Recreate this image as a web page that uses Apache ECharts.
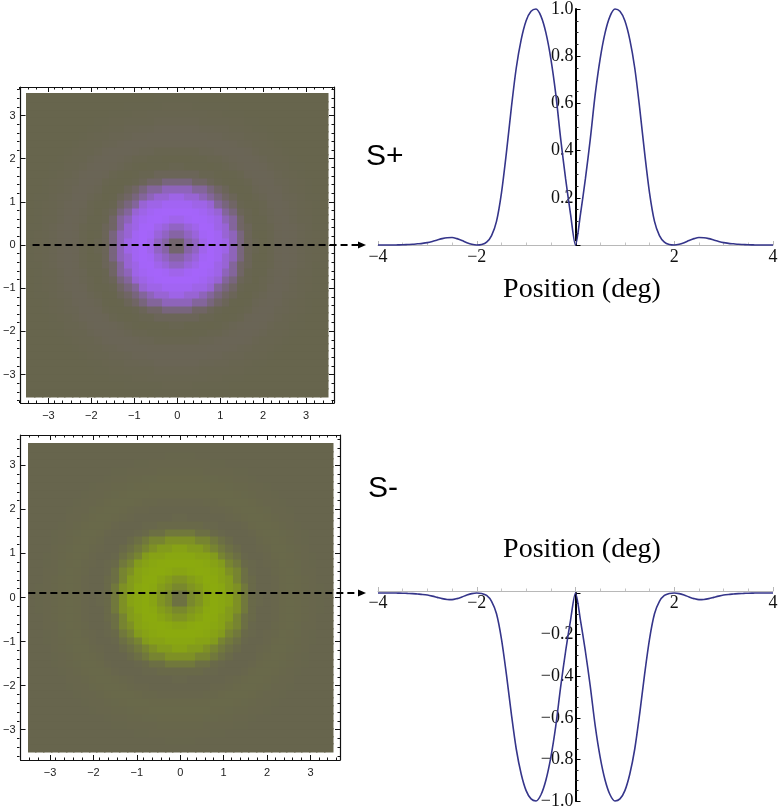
<!DOCTYPE html>
<html>
<head>
<meta charset="utf-8">
<script src="https://cdn.jsdelivr.net/npm/echarts@6/dist/echarts.min.js"></script>
<style>html,body{margin:0;padding:0;background:#fff;}#c{width:784px;height:810px;}</style>
</head>
<body>
<div id="c"></div>
<script>
// ---------------- data ----------------
const positionDeg = [
  -4.0,-3.9,-3.8,-3.7,-3.6,-3.5,-3.4,-3.3,-3.2,-3.1,
  -3.0,-2.9,-2.8,-2.7,-2.6,-2.5,-2.4,-2.3,-2.2,-2.1,
  -2.0,-1.9,-1.8,-1.7,-1.6,-1.5,-1.4,-1.3,-1.2,-1.1,
  -1.0,-0.9,-0.8,-0.7,-0.6,-0.5,-0.4,-0.3,-0.2,-0.1,
   0.0,
   0.1, 0.2, 0.3, 0.4, 0.5, 0.6, 0.7, 0.8, 0.9, 1.0,
   1.1, 1.2, 1.3, 1.4, 1.5, 1.6, 1.7, 1.8, 1.9, 2.0,
   2.1, 2.2, 2.3, 2.4, 2.5, 2.6, 2.7, 2.8, 2.9, 3.0,
   3.1, 3.2, 3.3, 3.4, 3.5, 3.6, 3.7, 3.8, 3.9, 4.0
];
const sPlusResponse = [
  0, 0, 0, 0, 0.0005, 0.001, 0.002, 0.003, 0.005, 0.007,
  0.010, 0.015, 0.021, 0.027, 0.031, 0.032, 0.027, 0.019, 0.010, 0.003,
  0, 0.002, 0.012, 0.04, 0.10, 0.22, 0.39, 0.58, 0.75, 0.87,
  0.95, 0.99, 1.00, 0.97, 0.90, 0.79, 0.64, 0.45, 0.28, 0.13,
  0,
  0.13, 0.28, 0.45, 0.64, 0.79, 0.90, 0.97, 1.00, 0.99, 0.95,
  0.87, 0.75, 0.58, 0.39, 0.22, 0.10, 0.04, 0.012, 0.002, 0,
  0.003, 0.010, 0.019, 0.027, 0.032, 0.031, 0.027, 0.021, 0.015, 0.010,
  0.007, 0.005, 0.003, 0.002, 0.001, 0.0005, 0, 0, 0, 0
];
const sMinusResponse = [
  0, 0, 0, 0, -0.0005, -0.001, -0.002, -0.003, -0.005, -0.007,
  -0.010, -0.015, -0.021, -0.027, -0.031, -0.032, -0.027, -0.019, -0.010, -0.003,
  0, -0.002, -0.012, -0.04, -0.10, -0.22, -0.39, -0.58, -0.75, -0.87,
  -0.95, -0.99, -1.00, -0.97, -0.90, -0.79, -0.64, -0.45, -0.28, -0.13,
  0,
  -0.13, -0.28, -0.45, -0.64, -0.79, -0.90, -0.97, -1.00, -0.99, -0.95,
  -0.87, -0.75, -0.58, -0.39, -0.22, -0.10, -0.04, -0.012, -0.002, 0,
  -0.003, -0.010, -0.019, -0.027, -0.032, -0.031, -0.027, -0.021, -0.015, -0.010,
  -0.007, -0.005, -0.003, -0.002, -0.001, -0.0005, 0, 0, 0, 0
];
const heatTicks = [-3, -2, -1, 0, 1, 2, 3];
const heatMinorTicks = [-3.6,-3.4,-3.2,-2.8,-2.6,-2.4,-2.2,-1.8,-1.6,-1.4,-1.2,-0.8,-0.6,-0.4,-0.2,
                        0.2,0.4,0.6,0.8,1.2,1.4,1.6,1.8,2.2,2.4,2.6,2.8,3.2,3.4,3.6];
const heatCellCount = 40;          // pixel blocks per side of each map
const heatExtent = 3.5;            // map spans -3.5..3.5 deg
const sPlusYTicks = [0.2, 0.4, 0.6, 0.8, 1.0];
const sMinusYTicks = [-0.2, -0.4, -0.6, -0.8, -1.0];

// ---------------- helpers ----------------
const MINUS = '\u2212';
const fmtInt = v => (v < 0 ? MINUS + (-v) : String(v));
const BG = [103, 101, 77];
const PURPLE = [165, 100, 250];
const GREEN = [139, 170, 14];
function mix(c, v) {
  v = Math.pow(Math.max(0, Math.min(1, v)), 0.85);
  return 'rgb(' + c.map((k, i) => Math.round(BG[i] + (k - BG[i]) * v)).join(',') + ')';
}
// radial maps: each block takes the slice value at its radius (nearest sample of the read profile)
function radialCells(values, sign) {
  const step = 2 * heatExtent / heatCellCount;
  const cells = [];
  for (let i = 0; i < heatCellCount; i++) {
    for (let j = 0; j < heatCellCount; j++) {
      const x = -heatExtent + step * (i + 0.5);
      const y = -heatExtent + step * (j + 0.5);
      const r = Math.sqrt(x * x + y * y);
      let best = -1, bd = 1e9;
      for (let k = 0; k < positionDeg.length; k++) {
        if (positionDeg[k] < 0) continue;
        const d = Math.abs(positionDeg[k] - r);
        if (d < bd) { bd = d; best = k; }
      }
      const v = (bd < 0.06) ? sign * values[best] : 0;
      cells.push([x, y, v]);
    }
  }
  return cells;
}
const CELL = 2 * heatExtent / heatCellCount;
function heatRender(color) {
  return function (params, api) {
    const x = api.value(0), y = api.value(1), v = api.value(2);
    const p0 = api.coord([x - CELL / 2, y + CELL / 2]);
    const p1 = api.coord([x + CELL / 2, y - CELL / 2]);
    const x0 = Math.floor(p0[0]), y0 = Math.floor(p0[1]);
    return {
      type: 'rect',
      shape: { x: x0, y: y0, width: Math.ceil(p1[0]) - x0 + 0.5, height: Math.ceil(p1[1]) - y0 + 0.5 },
      style: { fill: mix(color, v) }
    };
  };
}

function frameAxes(dim, gMaj, gMin, lim) {
  const pos = dim === 'x' ? ['bottom', 'top'] : ['left', 'right'];
  const base = {
    type: 'value', min: -lim, max: lim,
    splitLine: { show: false },
    axisLine: { show: true, onZero: false, lineStyle: { color: '#111', width: 1.2 } }
  };
  const majTick = { show: true, inside: true, length: 5, customValues: heatTicks, lineStyle: { color: '#111', width: 1 } };
  const minTick = { show: true, inside: true, length: 2.5, customValues: heatMinorTicks, lineStyle: { color: '#111', width: 1 } };
  return [
    Object.assign({}, base, { gridIndex: gMaj, position: pos[0], axisTick: majTick,
      axisLabel: { show: true, customValues: heatTicks, formatter: fmtInt, fontSize: 11,
        fontFamily: 'Liberation Sans', color: '#222', margin: dim === 'x' ? 7 : 5 } }),
    Object.assign({}, base, { gridIndex: gMaj, position: pos[1], axisTick: majTick, axisLabel: { show: false } }),
    Object.assign({}, base, { gridIndex: gMin, position: pos[0], axisLine: { show: false, onZero: false }, axisTick: minTick, axisLabel: { show: false } }),
    Object.assign({}, base, { gridIndex: gMin, position: pos[1], axisLine: { show: false, onZero: false }, axisTick: minTick, axisLabel: { show: false } })
  ];
}

const serifFont = 'Liberation Serif';
const LINE_W = 395, LINE_H_BOTTOM = 210;
function lineX(gridIndex, offset) {
  return {
    type: 'value', gridIndex: gridIndex, min: -4, max: 4, interval: 2,
    position: 'bottom', offset: offset,
    splitLine: { show: false },
    axisLine: { show: true, onZero: false, lineStyle: { color: '#b8b8b8', width: 1 } },
    axisTick: { show: true, inside: true, length: 4, lineStyle: { color: '#b8b8b8' } },
    minorTick: { show: true, splitNumber: 4, length: 2.5, lineStyle: { color: '#c4c4c4' } },
    minorSplitLine: { show: false },
    axisLabel: { formatter: v => (v === 0 ? '' : fmtInt(v)), fontFamily: serifFont, fontSize: 18, color: '#111', margin: 3 }
  };
}
function lineY(gridIndex, min, max, ticks) {
  return {
    type: 'value', gridIndex: gridIndex, min: min, max: max, interval: 0.2,
    position: 'left', offset: -LINE_W / 2,     // axis drawn through x = 0 (middle of -4..4)
    splitLine: { show: false },
    axisLine: { show: true, onZero: false, lineStyle: { color: '#000', width: 2 } },
    axisTick: { show: true, inside: false, length: -5, lineStyle: { color: '#000' } },
    minorTick: { show: true, splitNumber: 4, length: -3, lineStyle: { color: '#222' } },
    minorSplitLine: { show: false },
    axisLabel: { customValues: ticks, formatter: v => (v < 0 ? MINUS + (-v).toFixed(1) : v.toFixed(1)),
      fontFamily: serifFont, fontSize: 18, color: '#111', margin: 2 }
  };
}

const xAxes = [].concat(
  frameAxes('x', 0, 1, 3.65),
  frameAxes('x', 2, 3, 3.68),
  [lineX(4, 0), lineX(5, -LINE_H_BOTTOM)]
);
const yAxes = [].concat(
  frameAxes('y', 0, 1, 3.66),
  frameAxes('y', 2, 3, 3.69),
  [lineY(4, 0, 1, sPlusYTicks), lineY(5, -1, 0, sMinusYTicks)]
);

const chart = echarts.init(document.getElementById('c'), null, { renderer: 'canvas' });
chart.setOption({
  animation: false,
  backgroundColor: '#fff',
  grid: [
    { left: 17, top: 87, width: 317, height: 316 },
    { left: 17, top: 87, width: 317, height: 316 },
    { left: 17, top: 435, width: 323, height: 325 },
    { left: 17, top: 435, width: 323, height: 325 },
    { left: 378, top: 8, width: LINE_W, height: 237 },
    { left: 378, top: 593, width: LINE_W, height: LINE_H_BOTTOM }
  ],
  xAxis: xAxes,
  yAxis: yAxes,
  series: [
    { type: 'custom', name: 'S+ map', xAxisIndex: 0, yAxisIndex: 0, data: radialCells(sPlusResponse, 1),
      renderItem: heatRender(PURPLE), silent: true },
    { type: 'custom', name: 'S- map', xAxisIndex: 4, yAxisIndex: 4, data: radialCells(sMinusResponse, -1),
      renderItem: heatRender(GREEN), silent: true },
    { type: 'line', name: 'S+', xAxisIndex: 8, yAxisIndex: 8, showSymbol: false, smooth: 0.3, clip: false, z: 5,
      data: positionDeg.map((x, i) => [x, sPlusResponse[i]]),
      lineStyle: { color: '#35358a', width: 1.6 }, itemStyle: { color: '#35358a' } },
    { type: 'line', name: 'S-', xAxisIndex: 9, yAxisIndex: 9, showSymbol: false, smooth: 0.3, clip: false, z: 5,
      data: positionDeg.map((x, i) => [x, sMinusResponse[i]]),
      lineStyle: { color: '#35358a', width: 1.6 }, itemStyle: { color: '#35358a' } }
  ]
});

// dashed slice arrows from each map to its profile plot
function arrow(start, endX, y) {
  const tip = endX;
  return [
    { type: 'line', z: 100, shape: { x1: start[0], y1: y, x2: tip - 7, y2: y },
      style: { stroke: '#000', lineWidth: 2, lineDash: [7, 4] } },
    { type: 'polygon', z: 100, shape: { points: [[tip - 8, y - 3.5], [tip, y], [tip - 8, y + 3.5]] },
      style: { fill: '#000' } }
  ];
}
const topStart = chart.convertToPixel({ seriesIndex: 0 }, [-3.37, 0]);
const topEnd = chart.convertToPixel({ seriesIndex: 2 }, [-4, 0]);
const botStart = chart.convertToPixel({ seriesIndex: 1 }, [-3.5, 0.09]);
const botEnd = chart.convertToPixel({ seriesIndex: 3 }, [-4, 0]);

const texts = [
  { type: 'text', x: 366, y: 157, z: 100, style: { text: 'S+', font: '30px "Liberation Sans"', fill: '#000', align: 'left', verticalAlign: 'middle' } },
  { type: 'text', x: 368, y: 489, z: 100, style: { text: 'S-', font: '30px "Liberation Sans"', fill: '#000', align: 'left', verticalAlign: 'middle' } },
  { type: 'text', x: 582, y: 290, z: 100, style: { text: 'Position (deg)', font: '28px "Liberation Serif"', fill: '#000', align: 'center', verticalAlign: 'middle' } },
  { type: 'text', x: 582, y: 550, z: 100, style: { text: 'Position (deg)', font: '28px "Liberation Serif"', fill: '#000', align: 'center', verticalAlign: 'middle' } }
];
chart.setOption({
  graphic: [].concat(
    arrow(topStart, topEnd[0] - 12, topStart[1]),
    arrow(botStart, botEnd[0] - 12, botEnd[1]),
    texts
  )
});
</script>
</body>
</html>
